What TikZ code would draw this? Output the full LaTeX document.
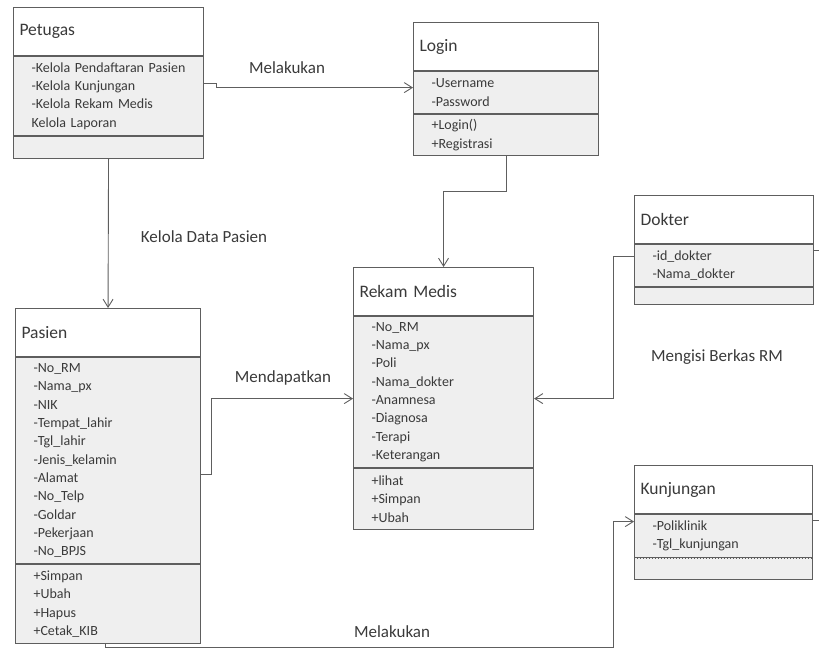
\documentclass[tikz,border=0pt]{standalone}
\usepackage{fontspec}
\setmainfont{Carlito}
\usetikzlibrary{positioning}
\usetikzlibrary{arrows.meta}
\definecolor{boxline}{HTML}{5E5E5E}
\definecolor{boxfill}{HTML}{EFEFEF}
\definecolor{inktext}{HTML}{3A3A3A}
\tikzset{
    x=1pt, y=-1pt,
    classhead/.style={
        draw=boxline,
        line width=1.1pt,
        fill=white,
        anchor=north west,
        inner xsep=6pt,
        inner ysep=0pt,
        text width=#1-12pt,
        minimum height=48pt,
        align=left,
        text=inktext,
        font=\fontsize{17.5}{19}\selectfont
    },
    classpart/.style={
        draw=boxline,
        line width=1pt,
        fill=boxfill,
        below=0pt of #1,
        inner xsep=18pt,
        inner ysep=0pt,
        align=left,
        text=inktext,
        font=\fontsize{14}{18.3}\selectfont
    },
    link/.style={
        draw=boxline,
        ->,>={Straight Barb[length=8pt,width=10pt]},
        line width=0.9pt
    },
    linktext/.style={
        text=inktext,
        font=\fontsize{17}{19}\selectfont
    }
}
\begin{document}
\begin{tikzpicture}
\useasboundingbox (0,0) rectangle (819,650);

% Petugas
\node[classhead=190pt] (petugas) at (13,7) {Petugas};
\node[classpart=petugas, text width=154pt, minimum height=79pt] (petugasattr)
    {-Kelola Pendaftaran Pasien\\-Kelola Kunjungan\\-Kelola Rekam Medis\\Kelola Laporan};
\node[classpart=petugasattr, text width=154pt, minimum height=22pt] (petugasops) {};

% Login
\node[classhead=185pt] (login) at (413,22) {Login};
\node[classpart=login, text width=149pt, minimum height=42pt] (loginattr)
    {-Username\\-Password};
\node[classpart=loginattr, text width=149pt, minimum height=41pt] (loginops)
    {+Login()\\+Registrasi};

% Dokter
\node[classhead=179pt] (dokter) at (634,195) {Dokter};
\node[classpart=dokter, text width=143pt, minimum height=42pt] (dokterattr)
    {-id\_dokter\\-Nama\_dokter};
\node[classpart=dokterattr, text width=143pt, minimum height=17pt] (dokterops) {};

% Rekam Medis
\node[classhead=180pt] (rekam) at (353,267) {Rekam Medis};
\node[classpart=rekam, text width=144pt, minimum height=151pt] (rekamattr)
    {-No\_RM\\-Nama\_px\\-Poli\\-Nama\_dokter\\-Anamnesa\\-Diagnosa\\-Terapi\\-Keterangan};
\node[classpart=rekamattr, text width=144pt, minimum height=61pt] (rekamops)
    {+lihat\\+Simpan\\+Ubah};

% Pasien
\node[classhead=185pt] (pasien) at (15,308) {Pasien};
\node[classpart=pasien, text width=149pt, minimum height=206pt] (pasienattr)
    {-No\_RM\\-Nama\_px\\-NIK\\-Tempat\_lahir\\-Tgl\_lahir\\-Jenis\_kelamin\\-Alamat\\-No\_Telp\\-Goldar\\-Pekerjaan\\-No\_BPJS};
\node[classpart=pasienattr, text width=149pt, minimum height=79pt] (pasienops)
    {+Simpan\\+Ubah\\+Hapus\\+Cetak\_KIB};

% Kunjungan
\node[classhead=178pt] (kunjungan) at (634,465) {Kunjungan};
\node[classpart=kunjungan, text width=142pt, minimum height=43pt] (kunjunganattr)
    {-Poliklinik\\-Tgl\_kunjungan};
\node[below=0pt of kunjunganattr, fill=boxfill, minimum width=178pt, minimum height=21pt, inner sep=0pt] (kunjunganops) {};
\draw[boxline, line width=1pt] (kunjunganops.north west) -- (kunjunganops.south west)
    -- (kunjunganops.south east) -- (kunjunganops.north east);
\draw[boxline, dotted, line width=1pt] (kunjunganops.north west) -- (kunjunganops.north east);

% labels
\node[linktext] (lblmelakukan) at (287,68) {Melakukan};
\node[linktext] (lblkelola) at (204,237) {Kelola Data Pasien};
\node[linktext] (lblmendapat) at (283,378) {Mendapatkan};
\node[linktext] (lblmengisi) at (717,357) {Mengisi Berkas RM};
\node[linktext] (lblmelakukan2) at (392,632) {Melakukan};

% connectors
\coordinate (turn) at (613,647);
\coordinate (edgedokter) at (819,250);
\coordinate (edgekunjungan) at (819,520);
\draw[link] ([yshift=12.5pt]petugasattr.east) -- ++(12,0) |- ([yshift=5pt]loginattr.west);
\draw[link] (loginops.south) -- ++(0,35) -| (rekam.north);
\draw[link] (petugasops.south) -- (pasien.north);
\draw[link] ([yshift=-14pt]pasienattr.east) -- ++(10,0) |- ([yshift=-6.5pt]rekamattr.west);
\draw[link] ([yshift=9pt]dokterattr.west) -- ++(-21,0) |- ([yshift=-6.5pt]rekamattr.east);
\draw[link] ([xshift=-2.5pt]pasienops.south) |- (turn) |- ([yshift=14.5pt]kunjunganattr.west);
\draw[boxline, line width=0.9pt] (dokterattr.east |- edgedokter) -- (edgedokter);
\draw[boxline, line width=0.9pt] (kunjunganattr.east |- edgekunjungan) -- (edgekunjungan);
\end{tikzpicture}
\end{document}
